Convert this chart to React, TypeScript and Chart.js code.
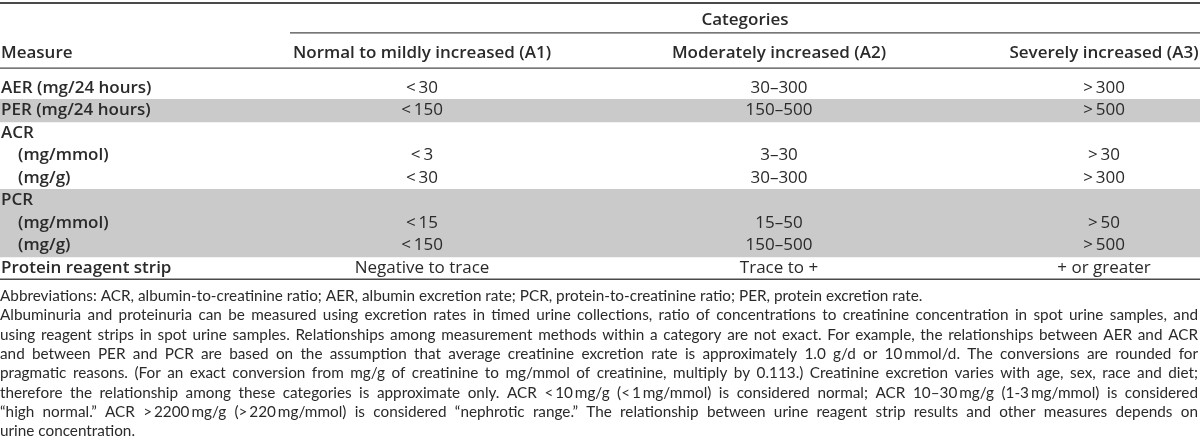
import { useEffect, useRef } from 'react';
import { Chart, registerables } from 'chart.js';

Chart.register(...registerables);

// ---------- data ----------
const MEASURES = [
  'AER (mg/24 hours)',
  'PER (mg/24 hours)',
  'ACR',
  '(mg/mmol)',
  '(mg/g)',
  'PCR',
  '(mg/mmol)',
  '(mg/g)',
  'Protein reagent strip',
];
const MEASURE_LEVEL = [0, 0, 0, 1, 1, 0, 1, 1, 0];
const SHADED_ROWS = [false, true, false, false, false, true, true, true, false];

const GROUP_HEADER = 'Categories';
const COLUMN_HEADERS = [
  'Measure',
  'Normal to mildly increased (A1)',
  'Moderately increased (A2)',
  'Severely increased (A3)',
];

const A1_VALUES = ['<\u200930', '<\u2009150', '', '<\u20093', '<\u200930', '', '<\u200915', '<\u2009150', 'Negative to trace'];
const A2_VALUES = ['30–300', '150–500', '', '3–30', '30–300', '', '15–50', '150–500', 'Trace to +'];
const A3_VALUES = ['>\u2009300', '>\u2009500', '', '>\u200930', '>\u2009300', '', '>\u200950', '>\u2009500', '+ or greater'];

const FOOTNOTE_LINES = [
  'Abbreviations: ACR, albumin-to-creatinine ratio; AER, albumin excretion rate; PCR, protein-to-creatinine ratio; PER, protein excretion rate.',
  'Albuminuria and proteinuria can be measured using excretion rates in timed urine collections, ratio of concentrations to creatinine concentration in spot urine samples, and',
  'using reagent strips in spot urine samples. Relationships among measurement methods within a category are not exact. For example, the relationships between AER and ACR',
  'and between PER and PCR are based on the assumption that average creatinine excretion rate is approximately 1.0 g/d or 10\u2009mmol/d. The conversions are rounded for',
  'pragmatic reasons. (For an exact conversion from mg/g of creatinine to mg/mmol of creatinine, multiply by 0.113.) Creatinine excretion varies with age, sex, race and diet;',
  'therefore the relationship among these categories is approximate only. ACR <\u200910\u2009mg/g (<\u20091\u2009mg/mmol) is considered normal; ACR 10–30\u2009mg/g (1-3\u2009mg/mmol) is considered',
  '\u201Chigh normal.\u201D ACR >\u20092200\u2009mg/g (>\u2009220\u2009mg/mmol) is considered \u201Cnephrotic range.\u201D The relationship between urine reagent strip results and other measures depends on',
  'urine concentration.',
];
const FOOTNOTE_JUSTIFIED = [false, true, true, true, true, true, true, false];

// ---------- layout (not data) ----------
const W = 1200;
const H = 443;
const TABLE_UNITS = 1200; // x-scale domain
const COLUMN_CENTERS = [0, 422, 779, 1104];
const GROUP_SPAN = [290, 1200];
const SUB_INDENT = 17;
const TEXT_COLOR = '#2a2a2a';
const SHADE_COLOR = '#cacaca';
const RULE_COLOR = '#4a4a4a';
const FONT_FAMILY = '"Open Sans", Lato, sans-serif';
const NOTE_FAMILY = 'Lato, "Open Sans", sans-serif';

function drawLine(ctx: CanvasRenderingContext2D, x0: number, x1: number, y: number, w: number, color: string) {
  ctx.save();
  ctx.strokeStyle = color;
  ctx.lineWidth = w;
  ctx.beginPath();
  ctx.moveTo(x0, y);
  ctx.lineTo(x1, y);
  ctx.stroke();
  ctx.restore();
}

function drawJustified(ctx: CanvasRenderingContext2D, text: string, x0: number, x1: number, y: number, justify: boolean) {
  ctx.textAlign = 'left';
  if (!justify) {
    ctx.fillText(text, x0, y);
    return;
  }
  const words = text.split(' ');
  const widths = words.map((w) => ctx.measureText(w).width);
  const total = widths.reduce((a, b) => a + b, 0);
  const gap = (x1 - x0 - total) / Math.max(1, words.length - 1);
  let x = x0;
  words.forEach((w, i) => {
    ctx.fillText(w, x, y);
    x += widths[i] + gap;
  });
}

const tablePlugin = {
  id: 'tableText',
  afterDatasetsDraw(chart: any) {
    const ctx: CanvasRenderingContext2D = chart.ctx;
    const xs = chart.scales.x;
    const ys = chart.scales.y;
    const top = ys.top;
    const bottom = ys.bottom;
    const rowH = (bottom - top) / MEASURES.length;
    const left = xs.getPixelForValue(0);
    const right = xs.getPixelForValue(TABLE_UNITS);

    ctx.save();
    ctx.fillStyle = TEXT_COLOR;
    ctx.textBaseline = 'middle';

    // rules
    drawLine(ctx, left, right, 3, 2, RULE_COLOR);
    drawLine(ctx, xs.getPixelForValue(GROUP_SPAN[0]), xs.getPixelForValue(GROUP_SPAN[1]), top - 1.95 * rowH, 1.2, RULE_COLOR);
    drawLine(ctx, left, right, top - 0.39 * rowH, 1.2, RULE_COLOR);
    drawLine(ctx, left, right, bottom, 1.5, RULE_COLOR);

    // header text
    ctx.font = `600 17px ${FONT_FAMILY}`;
    ctx.textAlign = 'center';
    ctx.fillText(GROUP_HEADER, xs.getPixelForValue((GROUP_SPAN[0] + GROUP_SPAN[1]) / 2), top - 2.52 * rowH);
    COLUMN_HEADERS.forEach((h, i) => {
      if (i === 0) {
        ctx.textAlign = 'left';
        ctx.fillText(h, left + 1, top - 1.06 * rowH);
      } else {
        ctx.textAlign = 'center';
        ctx.fillText(h, xs.getPixelForValue(COLUMN_CENTERS[i]), top - 1.06 * rowH);
      }
    });

    // body
    MEASURES.forEach((m, i) => {
      const y = ys.getPixelForValue(i);
      ctx.font = `600 17px ${FONT_FAMILY}`;
      ctx.textAlign = 'left';
      ctx.fillText(m, left + 1 + MEASURE_LEVEL[i] * SUB_INDENT, y);
      ctx.font = `400 17px ${FONT_FAMILY}`;
      ctx.textAlign = 'center';
      [A1_VALUES, A2_VALUES, A3_VALUES].forEach((col, c) => {
        if (col[i]) ctx.fillText(col[i], xs.getPixelForValue(COLUMN_CENTERS[c + 1]), y);
      });
    });

    // footnotes
    ctx.font = `400 15.3px ${NOTE_FAMILY}`;
    FOOTNOTE_LINES.forEach((line, i) => {
      const y = bottom + 16.8 + i * 19.3;
      drawJustified(ctx, line, left, right - 2, y, FOOTNOTE_JUSTIFIED[i]);
    });
    ctx.restore();
  },
};

export default function App() {
  const ref = useRef<HTMLCanvasElement | null>(null);
  useEffect(() => {
    if (!ref.current) return;
    const chart = new Chart(ref.current, {
      type: 'bar',
      data: {
        labels: MEASURES,
        datasets: [
          {
            data: SHADED_ROWS.map((s) => (s ? [0, TABLE_UNITS] : null)) as any,
            backgroundColor: SHADE_COLOR,
            borderWidth: 0,
            barPercentage: 1,
            categoryPercentage: 1,
          },
        ],
      },
      options: {
        indexAxis: 'y',
        animation: false,
        responsive: false,
        devicePixelRatio: 1,
        events: [],
        layout: { padding: { top: 76.8, bottom: H - 279.3, left: 0, right: 0 } },
        plugins: { legend: { display: false }, tooltip: { enabled: false } },
        scales: {
          x: { type: 'linear', min: 0, max: TABLE_UNITS, display: false },
          y: { type: 'category', display: false, offset: true },
        },
      },
      plugins: [tablePlugin],
    });
    return () => chart.destroy();
  }, []);
  return (
    <div style={{ position: 'absolute', left: 0, top: 0, width: W, height: H, background: '#fff' }}>
      <canvas ref={ref} width={W} height={H} style={{ width: W, height: H, display: 'block' }} />
    </div>
  );
}
